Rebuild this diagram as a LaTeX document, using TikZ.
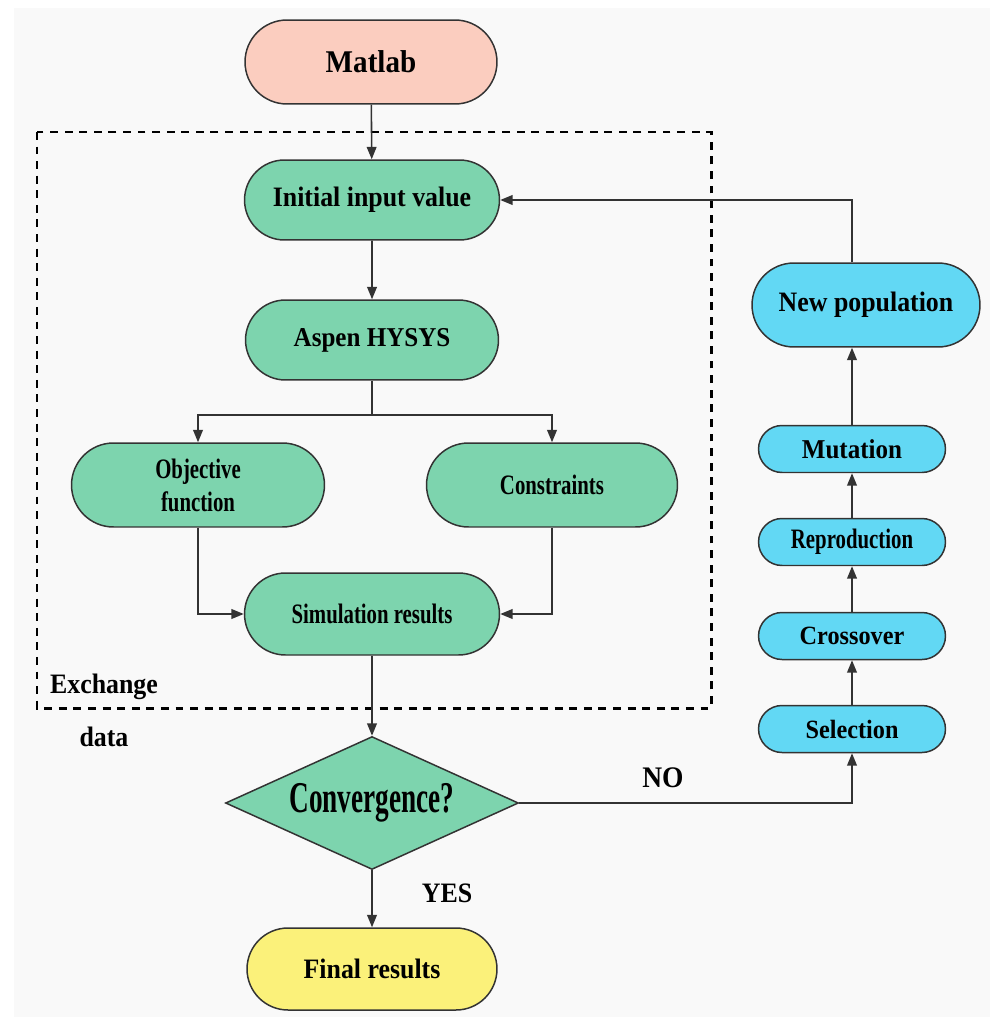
\documentclass[tikz,border=0pt]{standalone}
\usepackage{fontspec}
\setmainfont{Liberation Serif}[FakeStretch=0.92]
\newfontfamily\narrowfont{Liberation Serif}[FakeStretch=0.74]
\newfontfamily\tallfont{Liberation Serif}[FakeStretch=0.62]
\usetikzlibrary{shapes.misc,shapes.geometric,arrows.meta}

\definecolor{matlabred}{HTML}{FBCDBF}
\definecolor{hysysgreen}{HTML}{7DD4AE}
\definecolor{gablue}{HTML}{62D8F4}
\definecolor{finalyellow}{HTML}{FBF17A}
\definecolor{edgegray}{HTML}{333333}
\definecolor{paper}{HTML}{F9F9F9}

\begin{document}
\begin{tikzpicture}[x=0.02cm, y=-0.02cm,
    box/.style={rounded rectangle, draw=edgegray, line width=0.85pt, inner sep=0pt,
      align=center, font=\bfseries\fontsize{16}{18.5}\selectfont},
    smallbox/.style={box, fill=gablue, minimum width=3.74cm, minimum height=0.94cm},
    lbl/.style={font=\bfseries\fontsize{16}{18}\selectfont, inner sep=0pt},
    arr/.style={-{Triangle[length=7pt,width=5.5pt]}, line width=0.9pt, draw=edgegray},
    exchange/.style={line width=1.7pt, dash pattern=on 4.5pt off 3.8pt}]
  \useasboundingbox (0,0) rectangle (990,1017);
  \fill[paper] (14,8) rectangle (990,1017);

  % exchange data frame
  \draw[exchange] (37,132) rectangle (711,708);

  \node[box, fill=matlabred, minimum width=5.04cm, minimum height=1.68cm,
    font=\bfseries\fontsize{18}{20}\selectfont] (matlab) at (371,62) {Matlab};
  \node[box, fill=hysysgreen, minimum width=5.1cm, minimum height=1.6cm] (init) at (372,200) {Initial input value};
  \node[box, fill=hysysgreen, minimum width=5.06cm, minimum height=1.6cm,
    font=\bfseries\fontsize{15.5}{18}\selectfont] (hysys) at (372,340) {Aspen HYSYS};
  \node[box, fill=hysysgreen, minimum width=5.06cm, minimum height=1.68cm,
    font=\narrowfont\bfseries\fontsize{16}{18.7}\selectfont] (objective) at (198,485) {Objective\\function};
  \node[box, fill=hysysgreen, minimum width=5.02cm, minimum height=1.68cm,
    font=\narrowfont\bfseries\fontsize{16}{18}\selectfont] (constraints) at (552,485) {Constraints};
  \node[box, fill=hysysgreen, minimum width=5.1cm, minimum height=1.64cm,
    font=\narrowfont\bfseries\fontsize{16}{18}\selectfont] (simulation) at (372,614) {Simulation results};
  \node[diamond, draw=edgegray, line width=0.85pt, fill=hysysgreen, inner sep=0pt, aspect=2.2,
    minimum width=5.86cm, minimum height=2.66cm,
    font=\tallfont\bfseries\fontsize{25}{28}\selectfont] (converge) at (372,803) {Convergence?};
  \node[box, fill=finalyellow, minimum width=5.0cm, minimum height=1.64cm] (final) at (372,969) {Final results};

  \node[box, fill=gablue, minimum width=4.56cm, minimum height=1.68cm] (newpop) at (866,305) {New population};
  \node[smallbox, font=\bfseries\fontsize{15.5}{18}\selectfont] (mutation) at (852,449) {Mutation};
  \node[smallbox, font=\narrowfont\bfseries\fontsize{16}{18}\selectfont] (reproduction) at (852,542) {Reproduction};
  \node[smallbox, font=\bfseries\fontsize{15}{18}\selectfont] (crossover) at (852,636) {Crossover};
  \node[smallbox, font=\bfseries\fontsize{15}{18}\selectfont] (selection) at (852,729) {Selection};

  \node[lbl] (exch) at (104,687) {Exchange};
  \node[lbl] (data) at (104,737) {data};
  \node[lbl] (yes) at (447,893) {YES};
  \node[lbl, font=\bfseries\fontsize{17}{19}\selectfont] (no) at (663,778) {NO};

  \coordinate (split) at (372,415);

  \draw[arr] (matlab) -- (init);
  \draw[arr] (init) -- (hysys);
  \draw[arr] (hysys.south) -- (split) -| (objective);
  \draw[arr] (split) -| (constraints);
  \draw[arr] (objective) |- (simulation);
  \draw[arr] (constraints) |- (simulation);
  \draw[arr] (simulation) -- (converge);
  \draw[arr] (converge) -- (final);
  \draw[arr] (converge) -| (selection);
  \draw[arr] (selection) -- (crossover);
  \draw[arr] (crossover) -- (reproduction);
  \draw[arr] (reproduction) -- (mutation);
  \draw[arr] (mutation.north) -- (mutation.north |- newpop.south);
  \draw[arr] (newpop.north -| mutation.north) |- (init);
\end{tikzpicture}
\end{document}
